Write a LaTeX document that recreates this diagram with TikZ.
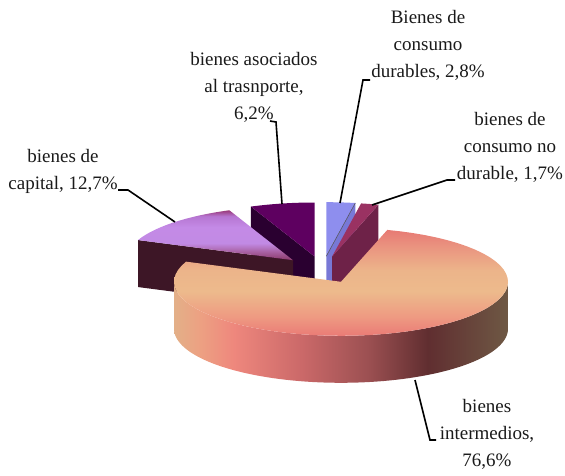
\documentclass[tikz,border=0pt]{standalone}
\usepackage{fontspec}
\setmainfont{Liberation Serif}
% main slice wall colours (left to right)
\definecolor{ms1}{HTML}{E3B088}
\definecolor{ms2}{HTML}{EDA082}
\definecolor{ms3}{HTML}{EE877D}
\definecolor{ms4}{HTML}{CB6969}
\definecolor{ms5}{HTML}{9C5052}
\definecolor{ms6}{HTML}{602E30}
\definecolor{ms7}{HTML}{6E5844}
% main slice top colours (bottom to top)
\definecolor{mt1}{HTML}{EA7B76}
\definecolor{mt2}{HTML}{EE9A82}
\definecolor{mt3}{HTML}{EDBA8C}
\definecolor{mt4}{HTML}{ECB48A}
\definecolor{mt5}{HTML}{EA9480}
\definecolor{mt6}{HTML}{E77A74}
% capital top colours (bottom to top)
\definecolor{ct1}{HTML}{8A3A6A}
\definecolor{ct2}{HTML}{A65E9E}
\definecolor{ct3}{HTML}{C18AE4}
\definecolor{ct4}{HTML}{C48AE6}
\definecolor{ct5}{HTML}{B676D2}
\definecolor{ct6}{HTML}{983878}
\definecolor{capside}{HTML}{3D1626}
\definecolor{asotop}{HTML}{5E0060}
\definecolor{asoside}{HTML}{2A0030}
\definecolor{durtop}{HTML}{8E8EEE}
\definecolor{durside}{HTML}{7878D6}
\definecolor{ndtop}{HTML}{9A3262}
\definecolor{ndside}{HTML}{6E2248}
\definecolor{txt}{HTML}{1A1A1A}
\pgfdeclarehorizontalshading{mainside}{100bp}{color(0bp)=(ms1); color(25bp)=(ms1); color(29bp)=(ms2); color(34bp)=(ms3); color(44bp)=(ms4); color(54bp)=(ms5); color(63bp)=(ms6); color(75bp)=(ms7); color(100bp)=(ms7)}
\pgfdeclareverticalshading{maintop}{100bp}{color(0bp)=(mt1); color(25bp)=(mt1); color(34bp)=(mt2); color(46bp)=(mt3); color(56bp)=(mt4); color(67bp)=(mt5); color(75bp)=(mt6); color(100bp)=(mt6)}
\pgfdeclareverticalshading{captop}{100bp}{color(0bp)=(ct1); color(25bp)=(ct1); color(33bp)=(ct2); color(42bp)=(ct3); color(58bp)=(ct4); color(69bp)=(ct5); color(75bp)=(ct6); color(100bp)=(ct6)}
\def\A{167}
\def\B{54}
\def\H{47}
\newcommand\pietop[5]{\path[#1] (#2,#3) -- plot[domain=#4:#5,samples=60,variable=\t] ({#2+\A*cos(\t)},{#3-\B*sin(\t)}) -- cycle;}
\newcommand\pieface[4]{\path[#1] (#2,#3) -- ({#2+\A*cos(#4)},{#3-\B*sin(#4)}) -- ++(0,\H) -- (#2,{#3+\H}) -- cycle;}
\newcommand\piewall[5]{\path[#1] plot[domain=#4:#5,samples=80,variable=\t] ({#2+\A*cos(\t)},{#3-\B*sin(\t)}) -- plot[domain=#5:#4,samples=80,variable=\t] ({#2+\A*cos(\t)},{#3-\B*sin(\t)+\H}) -- cycle;}
\tikzset{
  lbl/.style={text=txt, align=center, inner sep=0pt, font=\fontsize{19}{27}\selectfont},
  leader/.style={draw=black, line width=1.6pt},
}
\begin{document}
\begin{tikzpicture}[x=1pt,y=-1pt]
\useasboundingbox (0,0) rectangle (565,476);
% asociados al trasporte
\pieface{fill=asoside}{314.6}{256.5}{112.4}
\pietop{fill=asotop}{314.6}{256.5}{90}{112.4}
% durables
\pieface{fill=durside}{326.3}{256.2}{80}
\pietop{fill=durtop}{326.3}{256.2}{80}{90}
\draw[line width=0.5pt, black!70] (326.3,256.2) -- ({326.3+\A*cos(80)},{256.2-\B*sin(80)});
% no durable
\pieface{fill=ndside}{332.1}{256.6}{73.9}
\pietop{fill=ndtop}{332.1}{256.6}{73.9}{80}
% capital
\pieface{fill=capside}{293}{260.2}{158.1}
\pietop{shade, shading=captop}{293}{260.2}{112.4}{158.1}
% intermedios
\piewall{shade, shading=mainside}{341}{281.8}{180}{360}
\pietop{shade, shading=maintop}{341}{281.8}{158.1}{433.9}
% labels
\node[lbl] (ldur) at (428,45) {Bienes de\\consumo\\durables, 2,8\%};
\node[lbl] (lnd) at (510,147) {bienes de\\consumo no\\durable, 1,7\%};
\node[lbl] (laso) at (254,87) {bienes asociados\\al trasnporte,\\6,2\%};
\node[lbl] (lcap) at (63,171) {bienes de\\capital, 12,7\%};
\node[lbl] (lint) at (487,434) {bienes\\intermedios,\\76,6\%};
% leader lines
\coordinate (capA) at (118,190); \coordinate (capB) at (128,190); \coordinate (capP) at (175,222);
\coordinate (asoA) at (270,121); \coordinate (asoB) at (276,122); \coordinate (asoP) at (282,204);
\coordinate (durA) at (370,80); \coordinate (durB) at (363,80); \coordinate (durP) at (340,203);
\coordinate (ndA) at (455,180); \coordinate (ndB) at (447,180); \coordinate (ndP) at (372,205);
\coordinate (intP) at (415,380); \coordinate (intB) at (430,440); \coordinate (intA) at (436,440);
\draw[leader] (capA) -- (capB) -- (capP);
\draw[leader] (asoA) -- (asoB) -- (asoP);
\draw[leader] (durA) -- (durB) -- (durP);
\draw[leader] (ndA) -- (ndB) -- (ndP);
\draw[leader] (intP) -- (intB) -- (intA);
\end{tikzpicture}
\end{document}
